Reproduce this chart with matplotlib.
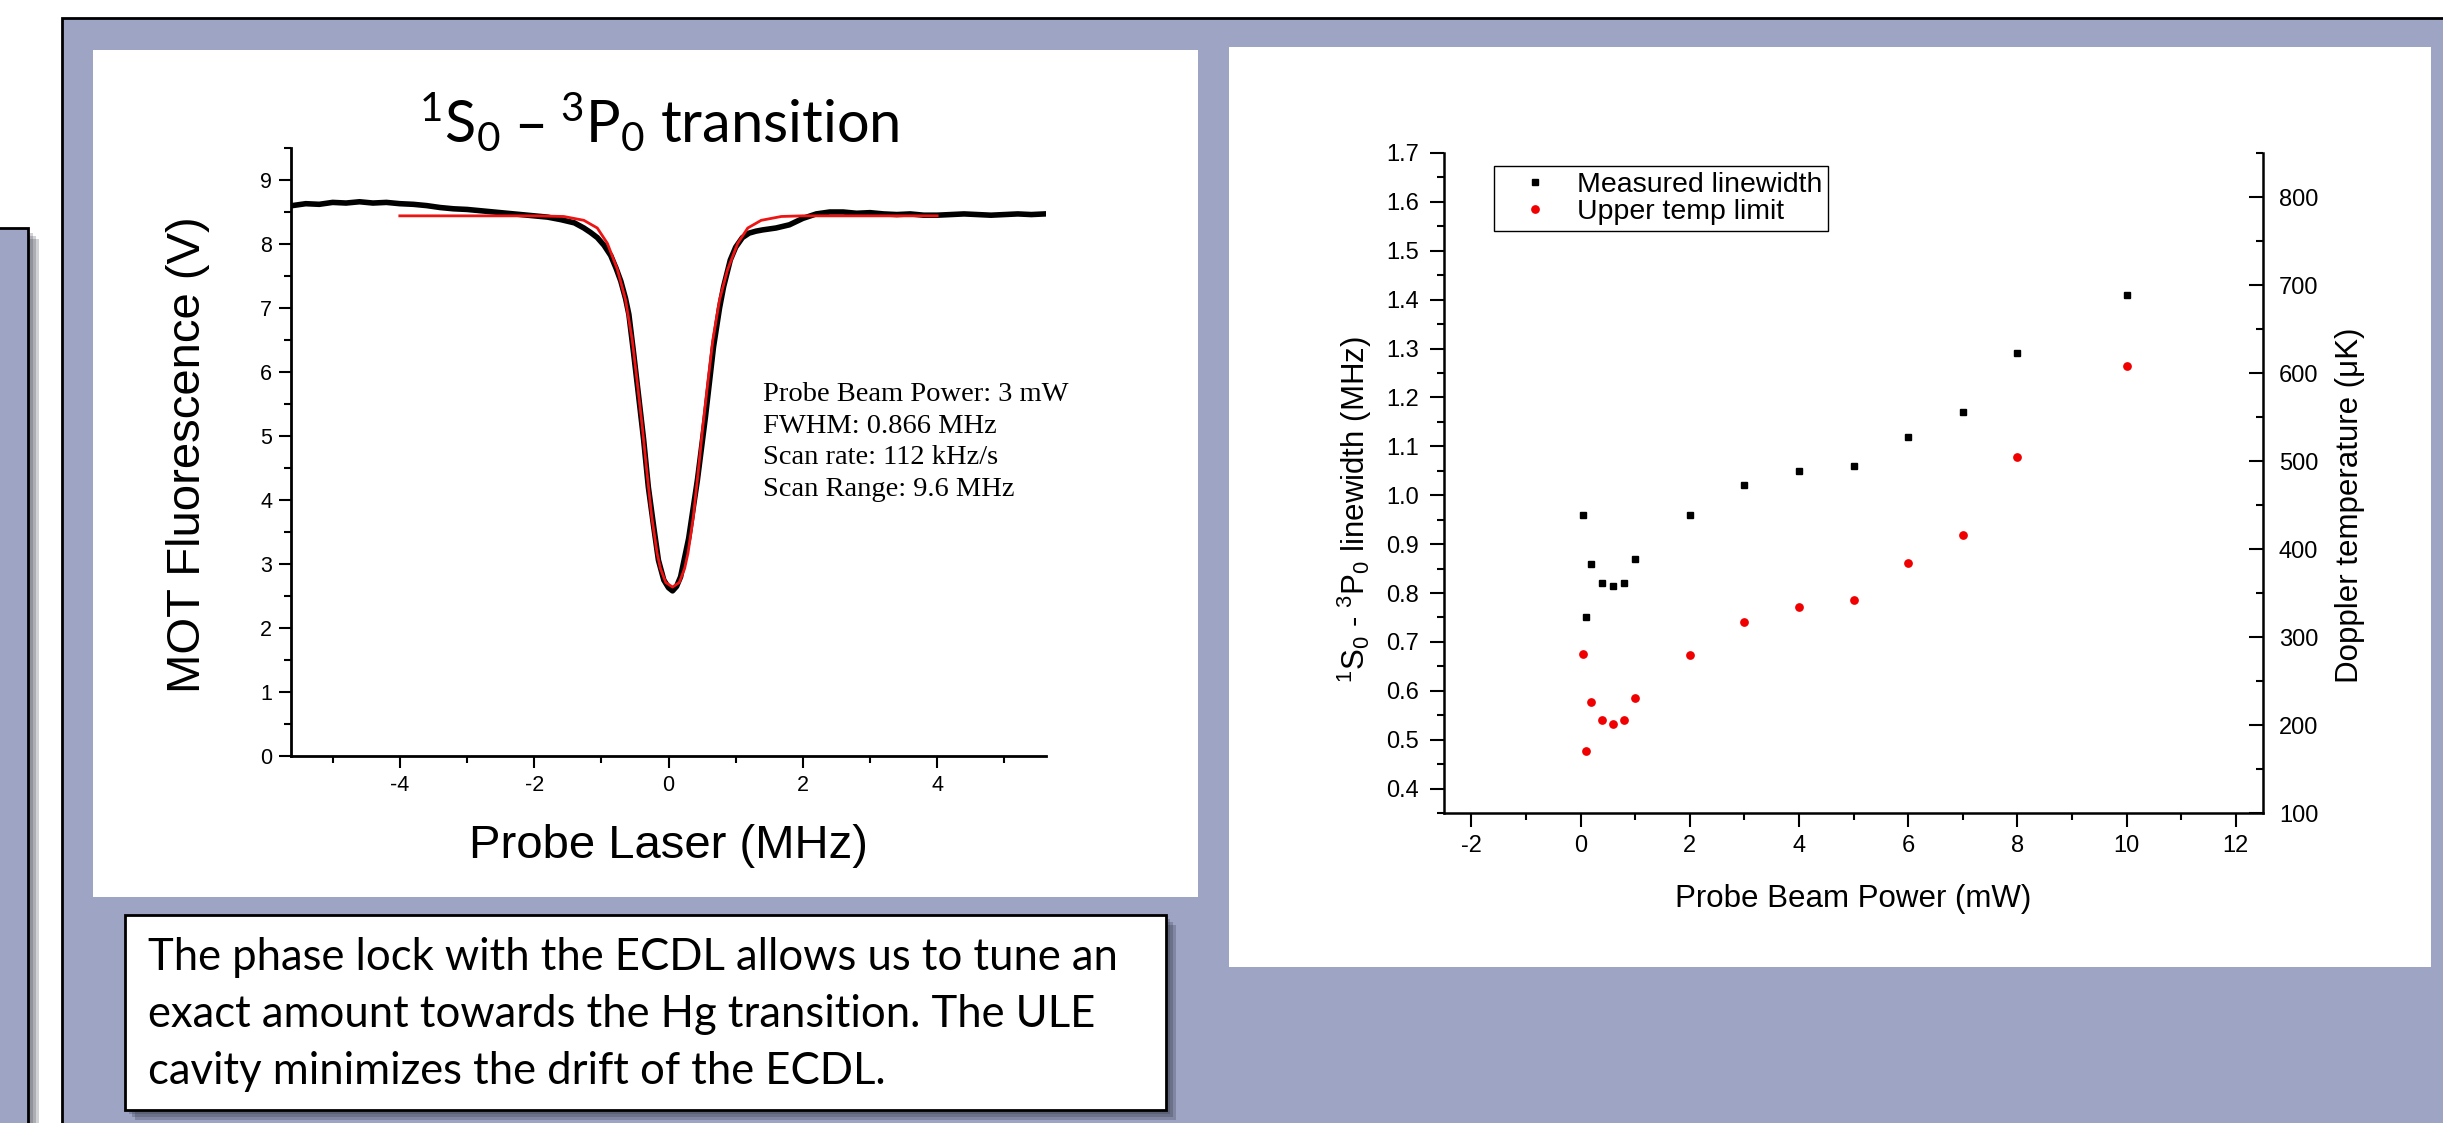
import matplotlib
matplotlib.use("Agg")
import matplotlib.pyplot as plt
from matplotlib.patches import Rectangle
from matplotlib.ticker import MultipleLocator, FormatStrFormatter

# ---- left panel: MOT fluorescence while scanning the probe laser ----
scan_mhz = [-5.6, -5.4, -5.2, -5.0, -4.8, -4.6, -4.4, -4.2, -4.0, -3.8, -3.6,
            -3.4, -3.2, -3.0, -2.8, -2.6, -2.4, -2.2, -2.0, -1.8, -1.6, -1.4,
            -1.26, -1.16, -1.06, -0.96, -0.86, -0.78, -0.71, -0.64, -0.59, -0.52,
            -0.45, -0.37, -0.30, -0.22, -0.15, -0.07,
            0.0, 0.06, 0.12, 0.18, 0.30, 0.43, 0.55, 0.67, 0.76, 0.82, 0.92, 1.0,
            1.1, 1.2, 1.3, 1.4,
            1.6, 1.8, 2.0, 2.2, 2.4, 2.6, 2.8, 3.0, 3.2, 3.4, 3.6, 3.8, 4.0, 4.2,
            4.4, 4.6, 4.8, 5.0, 5.2, 5.4, 5.6]
scan_volts = [8.60, 8.63, 8.62, 8.65, 8.64, 8.66, 8.64, 8.65, 8.63, 8.62, 8.60,
              8.57, 8.55, 8.54, 8.52, 8.50, 8.48, 8.46, 8.44, 8.42, 8.38, 8.33,
              8.25, 8.18, 8.10, 7.98, 7.82, 7.62, 7.42, 7.15, 6.90, 6.30,
              5.67, 4.94, 4.20, 3.58, 3.06, 2.75,
              2.63, 2.58, 2.65, 2.80, 3.40, 4.31, 5.30, 6.39, 7.00, 7.33, 7.75, 7.95,
              8.10, 8.17, 8.20, 8.22,
              8.25, 8.30, 8.40, 8.47, 8.50, 8.50, 8.48, 8.49, 8.47, 8.46, 8.47, 8.45,
              8.45, 8.46, 8.47, 8.46, 8.45, 8.46, 8.47, 8.46, 8.47]
fit_mhz = [-4.0, -3.0, -2.0, -1.56, -1.26, -1.06, -0.91, -0.76, -0.64, -0.54,
           -0.47, -0.39, -0.32, -0.25, -0.17, -0.12, -0.04, 0.06, 0.16, 0.24,
           0.29, 0.37, 0.44, 0.51, 0.59, 0.66, 0.76, 0.88, 1.03, 1.18,
           1.38, 1.68, 2.0, 3.0, 4.0]
fit_volts = [8.44, 8.44, 8.44, 8.43, 8.37, 8.25, 8.01, 7.60, 7.13, 6.50,
             5.88, 5.14, 4.42, 3.74, 3.17, 2.93, 2.71, 2.64, 2.71, 2.93,
             3.17, 3.74, 4.42, 5.14, 5.88, 6.50, 7.13, 7.60, 8.01, 8.25,
             8.37, 8.43, 8.44, 8.44, 8.44]
scan_notes = ["Probe Beam Power: 3 mW", "FWHM: 0.866 MHz",
              "Scan rate: 112 kHz/s", "Scan Range: 9.6 MHz"]

# ---- right panel: linewidth and Doppler temperature vs probe power ----
power_mw = [0.05, 0.1, 0.2, 0.4, 0.6, 0.8, 1, 2, 3, 4, 5, 6, 7, 8, 10]
linewidth_mhz = [0.96, 0.75, 0.86, 0.82, 0.815, 0.82, 0.87, 0.96, 1.02, 1.05,
                 1.06, 1.12, 1.17, 1.29, 1.41]
doppler_uk = [281, 170, 226, 206, 201, 206, 231, 280, 317, 334, 342, 384, 416,
              505, 608]

title_text = r"$\mathdefault{{}^{1}S_{0}}$ – $\mathdefault{{}^{3}P_{0}}$ transition"
caption_lines = ["The phase lock with the ECDL allows us to tune an",
                 "exact amount towards the Hg transition. The ULE",
                 "cavity minimizes the drift of the ECDL."]

W, H = 2443, 1123
LAVENDER = "#9da4c4"
ARIAL = "Liberation Sans"
TIMES = "Liberation Serif"
CALIBRI = ["Lato", "DejaVu Sans"]

plt.rcParams["font.family"] = ARIAL
plt.rcParams["axes.unicode_minus"] = False

fig = plt.figure(figsize=(W / 100, H / 100), dpi=100, facecolor="white")


def box(l, t, r, b):
    """pixel box measured from the top-left -> add_axes rect"""
    return [l / W, 1 - b / H, (r - l) / W, (b - t) / H]


def fx(x):
    return x / W


def fy(y):
    return 1 - y / H


def fit_width(txt, target_px):
    # scale a text so it spans target_px, since Lato stands in for Calibri
    w = txt.get_window_extent(fig.canvas.get_renderer()).width
    txt.set_fontsize(txt.get_fontsize() * target_px / w)
    return txt.get_fontsize()


# poster background, panels and the caption box
bg = fig.add_axes([0, 0, 1, 1], zorder=0)
bg.set_xlim(0, W)
bg.set_ylim(H, 0)
bg.axis("off")
bg.add_patch(Rectangle((62, 18), W, H, fc=LAVENDER, ec="black", lw=2))
for d in (11, 8, 5):
    bg.add_patch(Rectangle((-10, 228 + d), 38 + d, H, fc="#2f3243", ec="none", alpha=0.22))
bg.add_patch(Rectangle((-10, 228), 38, H, fc=LAVENDER, ec="black", lw=2))
bg.add_patch(Rectangle((93, 50), 1198 - 93, 897 - 50, fc="white", ec="none"))
bg.add_patch(Rectangle((1229, 47), 2431 - 1229, 967 - 47, fc="white", ec="none"))
for d in (10, 7, 4):
    bg.add_patch(Rectangle((125 + d, 915 + d), 1166 - 125, 1110 - 915,
                           fc="#2f3243", ec="none", alpha=0.25))
bg.add_patch(Rectangle((125, 915), 1166 - 125, 1110 - 915, fc="white", ec="black", lw=2))

# ---- left plot ----
ax1 = fig.add_axes(box(291, 148, 1046, 756), zorder=2)
ax1.patch.set_visible(False)
ax1.plot(scan_mhz, scan_volts, color="black", lw=4, solid_joinstyle="round")
ax1.plot(fit_mhz, fit_volts, color="#ee1414", lw=2, solid_joinstyle="round")
ax1.set_xlim(-5.62, 5.62)
ax1.set_ylim(0, 9.5)
ax1.set_xticks([-4, -2, 0, 2, 4])
ax1.xaxis.set_minor_locator(MultipleLocator(1))
ax1.set_yticks(range(10))
ax1.yaxis.set_minor_locator(MultipleLocator(0.5))
for s in ("top", "right"):
    ax1.spines[s].set_visible(False)
for s in ("left", "bottom"):
    ax1.spines[s].set_linewidth(2)
ax1.tick_params(which="major", direction="out", length=8.6, width=1.5, labelsize=15.5, pad=5)
ax1.tick_params(which="minor", direction="out", length=5, width=1.5)
ax1.set_xlabel("Probe Laser (MHz)", fontsize=34, va="baseline")
ax1.xaxis.set_label_coords(0.5, (756 - 858) / 608)
ax1.set_ylabel("MOT Fluorescence (V)", fontsize=34, va="center")
ax1.yaxis.set_label_coords((188 - 291) / 755, (756 - 455) / 608)

title = fig.text(fx(659), fy(143), title_text, fontsize=32, family=CALIBRI,
                 ha="center", va="baseline")
fit_width(title, 482)
for i, note in enumerate(scan_notes):
    fig.text(fx(763), fy(401 + 31.5 * i), note, fontsize=20.5, family=TIMES,
             ha="left", va="baseline")

# ---- right plot ----
ax2 = fig.add_axes(box(1444, 153, 2263, 813), zorder=2)
ax2.patch.set_visible(False)
sq, = ax2.plot(power_mw, linewidth_mhz, ls="none", marker="s", ms=5,
               color="black", label="Measured linewidth")
ax3 = ax2.twinx()
ax3.patch.set_visible(False)
dots, = ax3.plot(power_mw, doppler_uk, ls="none", marker="o", ms=6.3,
                 color="#f00000", mec="none", label="Upper temp limit")
ax2.set_xlim(-2.5, 12.5)
ax2.set_ylim(0.35, 1.7)
ax3.set_ylim(100, 850)
ax2.xaxis.set_major_locator(MultipleLocator(2))
ax2.xaxis.set_minor_locator(MultipleLocator(1))
ax2.yaxis.set_major_locator(MultipleLocator(0.1))
ax2.yaxis.set_minor_locator(MultipleLocator(0.05))
ax2.yaxis.set_major_formatter(FormatStrFormatter("%.1f"))
ax3.yaxis.set_major_locator(MultipleLocator(100))
ax3.yaxis.set_minor_locator(MultipleLocator(50))

ax2.spines["top"].set_visible(False)
ax2.spines["right"].set_visible(False)
for s in ("top", "left", "bottom"):
    ax3.spines[s].set_visible(False)
for s in ("left", "bottom"):
    ax2.spines[s].set_linewidth(1.8)
ax3.spines["right"].set_linewidth(1.8)

ax2.tick_params(which="major", direction="out", length=10, width=1.5, labelsize=17, pad=6)
ax2.tick_params(which="minor", direction="out", length=5, width=1.5)
ax2.tick_params(axis="y", which="major", pad=8)
ax3.tick_params(which="major", direction="in", length=10, width=1.5, labelsize=17, pad=11.5)
ax3.tick_params(which="minor", direction="in", length=5, width=1.5)

ax2.set_xlabel("Probe Beam Power (mW)", fontsize=22.5, va="baseline")
ax2.xaxis.set_label_coords(0.5, (813 - 907) / 660)
ax2.set_ylabel(r"$\mathdefault{{}^{1}S_{0}}$ - $\mathdefault{{}^{3}P_{0}}$ linewidth (MHz)",
               fontsize=22.5, va="center")
ax2.yaxis.set_label_coords((1355 - 1444) / 819, (813 - 510) / 660)
ax3.set_ylabel("Doppler temperature (μK)", fontsize=22.5, va="center")
ax3.yaxis.set_label_coords((2350 - 1444) / 819, (813 - 505) / 660)

leg = ax3.legend([sq, dots], [sq.get_label(), dots.get_label()], loc="upper left",
                 bbox_to_anchor=(fx(1494), fy(166)), bbox_transform=fig.transFigure,
                 fontsize=20.5, fancybox=False, framealpha=1, edgecolor="black",
                 borderpad=0.2, labelspacing=0.05, handlelength=2.5, handletextpad=0.2,
                 borderaxespad=0, numpoints=1)
leg.get_frame().set_linewidth(1)

# ---- caption ----
caption = [fig.text(fx(148), fy(970 + 57 * i), line, fontsize=30, family=CALIBRI,
                    ha="left", va="baseline")
           for i, line in enumerate(caption_lines)]
size = fit_width(caption[0], 969)
for t in caption[1:]:
    t.set_fontsize(size)

fig.savefig("out.png", dpi=100, facecolor="white")
